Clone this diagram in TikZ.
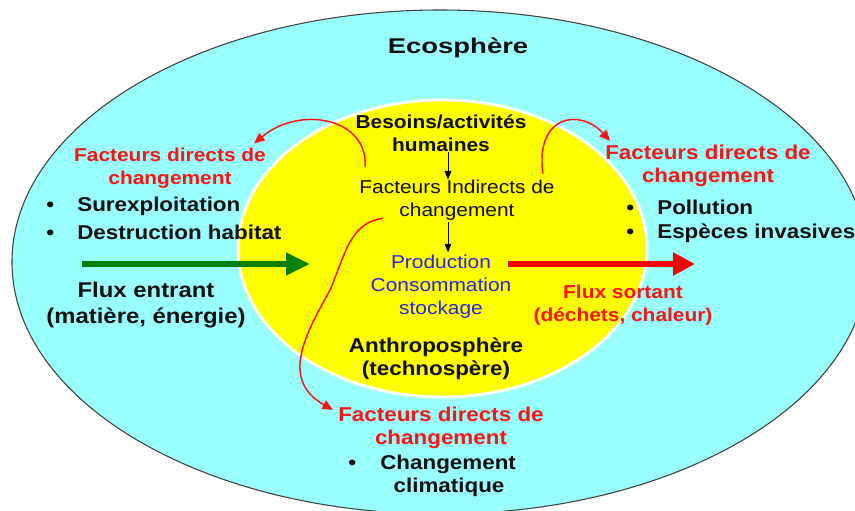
\documentclass[tikz,border=0pt]{standalone}
\usepackage{fontspec}
\setmainfont{Liberation Sans}[FakeStretch=1.12]
\usepackage{graphicx}
\usetikzlibrary{arrows.meta,calc}
\definecolor{ecocyan}{RGB}{153,255,255}
\definecolor{anthyellow}{RGB}{255,255,0}
\definecolor{myred}{RGB}{250,20,20}
\definecolor{mygreen}{RGB}{0,128,0}
\definecolor{myblue}{RGB}{40,40,215}
\definecolor{txtblack}{RGB}{15,15,15}
\newcommand\fsz[2]{\fontsize{#1}{#2}\selectfont}
\begin{document}
\begin{tikzpicture}[x=0.75pt,y=-0.75pt,
  txt/.style={inner sep=0pt, align=center, text=txtblack},
  boldbig/.style={txt, font=\bfseries\fsz{15}{17.3}},
  boldsmall/.style={txt, font=\bfseries\fsz{14}{17.3}},
  plainsmall/.style={txt, font=\fsz{14}{17.2}},
  redhead/.style={boldbig, text=myred},
  itembox/.style={boldbig, anchor=west, align=left},
  redcurve/.style={draw=myred, line width=1.1pt, -{Triangle[length=8pt,width=7pt]}},
  blkarrow/.style={draw=black, line width=0.7pt, -{Triangle[length=6.5pt,width=5pt]}},
  greenflow/.style={draw=mygreen, line width=4.5pt, -{Triangle[length=18pt,width=16pt]}},
  redflow/.style={draw=red, line width=5pt, -{Triangle[length=16.5pt,width=16.5pt]}}
]
\useasboundingbox (0,0) rectangle (855,510);
\begin{scope}
  \clip (0,0) rectangle (855,510);
  \filldraw[fill=ecocyan, draw=black!75, line width=0.8pt] (440,262) ellipse [x radius=321pt, y radius=189pt];
  \filldraw[fill=anthyellow, draw=white, line width=2.2pt] (442.5,248.5) ellipse [x radius=153.4pt, y radius=111.4pt];
\end{scope}

% titles
\node[txt, font=\bfseries\fsz{16}{19}] (eco) at (458,48) {\scalebox{1.15}[1]{Ecosphère}};
\node[boldbig] (anth) at (436,359) {Anthroposphère\\(technospère)};

% centre chain
\node[boldsmall] (bes) at (441,133) {Besoins/activités\\humaines};
\node[plainsmall] (ind) at (457,200) {Facteurs Indirects de\\changement};
\node[plainsmall, text=myblue] (prod) at (441,287) {Production\\Consommation\\stockage};
\coordinate (ax) at (448,0);
\draw[blkarrow] (bes.south -| ax) -- (ind.north -| ax);
\draw[blkarrow] ([yshift=-1]ind.south -| ax) -- ([yshift=2]prod.north -| ax);

% direct drivers
\node[redhead, font=\bfseries\fsz{14}{17.3}] (fl) at (170,168) {Facteurs directs de\\changement};
\node[itembox] (s1) at (46,206) {\makebox[23.3pt][l]{•}Surexploitation};
\node[itembox] (s2) at (46,232) {\makebox[23.3pt][l]{•}Destruction habitat};

\node[redhead] (fr) at (708,166) {Facteurs directs de\\changement};
\node[itembox] (p1) at (626,207) {\makebox[23.3pt][l]{•}Pollution};
\node[itembox] (p2) at (626,233) {\makebox[23.3pt][l]{•}Espèces invasives};

\node[redhead] (fb) at (441,428) {Facteurs directs de\\changement};
\node[itembox] (c1) at (348,464) {\makebox[24pt][l]{•}Changement};
\node[boldbig] (c2) at (449,487) {climatique};

% flows
\node[txt, font=\bfseries\fsz{16}{20}] (fin) at (146,305) {Flux entrant\\(matière, énergie)};
\node[boldsmall, text=myred] (fout) at (623,305) {Flux sortant\\(déchets, chaleur)};
\coordinate (gin0) at (82,264);
\coordinate (gin1) at (310,264);
\coordinate (rout0) at (508,264);
\coordinate (rout1) at (695,264);
\draw[greenflow] (gin0) -- (gin1);
\draw[redflow] (rout0) -- (rout1);

% red curves from indirect drivers
\draw[redcurve] ([shift={(6,-13)}]ind.north west) .. controls (368,118) and (300,105) .. ([shift={(-12,-4)}]fl.north east);
\draw[redcurve] ([shift={(-12,-6)}]ind.north east) .. controls (535,115) and (580,108) .. ([shift={(5,-4)}]fr.north west);
\draw[redcurve] ([shift={(24,-2)}]ind.south west) .. controls (350,222) and (345,255) .. (330,290) .. controls (305,335) and (280,380) .. ([shift={(-5,3)}]fb.north west);
\end{tikzpicture}
\end{document}
